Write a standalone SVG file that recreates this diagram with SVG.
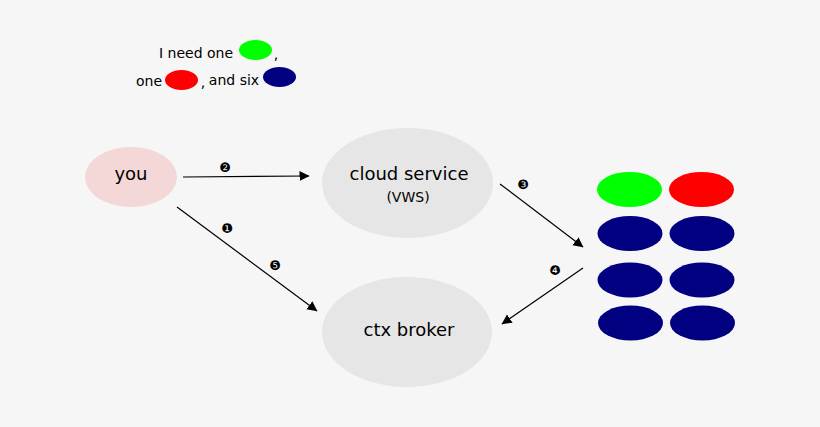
<svg xmlns="http://www.w3.org/2000/svg" width="820" height="427" viewBox="0 0 820 427">
<style>
text{font-family:"DejaVu Sans",sans-serif;fill:#000;text-anchor:middle}
.s{font-size:14px}.m{font-size:18px}.v{font-size:14px}.n{font-size:13px}
.g{fill:#00ff00}.r{fill:#ff0000}.b{fill:#000080}.c{fill:#e6e6e6}
.l{fill:none;stroke:#000;stroke-width:1.2;marker-end:url(#a)}
</style>
<defs><marker id="a" markerUnits="userSpaceOnUse" markerWidth="12" markerHeight="12" refX="9.5" refY="5" orient="auto"><path d="M0 0L10 5L0 10z" fill="#000"/></marker></defs>
<rect width="820" height="427" fill="#f6f6f6"/>
<g id="legend">
<text class="s" x="196" y="58">I need one</text>
<ellipse class="g" cx="255.500" cy="50" rx="16.500" ry="10"/>
<text class="s" x="276" y="59">,</text>
<text class="s" x="149" y="86">one</text>
<ellipse class="r" cx="181.500" cy="80" rx="16.500" ry="10"/>
<text class="s" x="203" y="87">,</text>
<text class="s" x="234" y="85">and six</text>
<ellipse class="b" cx="279.500" cy="77" rx="16.500" ry="10"/>
</g>
<g id="you"><ellipse cx="131" cy="177" rx="46" ry="30" fill="#f4d7d7"/><text class="m" x="131" y="180">you</text></g>
<g id="cloud"><ellipse class="c" cx="407.500" cy="183" rx="85.500" ry="55"/><text class="m" x="409" y="180">cloud service</text><text class="v" x="408" y="202">(VWS)</text></g>
<g id="broker"><ellipse class="c" cx="407" cy="332" rx="85" ry="55"/><text class="m" x="409" y="336">ctx broker</text></g>
<g id="pool">
<ellipse class="g" cx="629.500" cy="189.500" rx="32.500" ry="17.500"/>
<ellipse class="r" cx="701.500" cy="189.500" rx="32.500" ry="17.500"/>
<ellipse class="b" cx="630" cy="233.500" rx="32.500" ry="17.500"/>
<ellipse class="b" cx="702" cy="233.500" rx="32.500" ry="17.500"/>
<ellipse class="b" cx="630" cy="280" rx="32.500" ry="17.500"/>
<ellipse class="b" cx="702" cy="280" rx="32.500" ry="17.500"/>
<ellipse class="b" cx="630.500" cy="323" rx="32.500" ry="17.500"/>
<ellipse class="b" cx="702.500" cy="323" rx="32.500" ry="17.500"/>
</g>
<g id="connectors">
<path class="l" d="M183 177L309 176"/>
<path class="l" d="M177 207L317 311"/>
<path class="l" d="M500 184L583 247"/>
<path class="l" d="M583 268L502 324"/>
</g>
<g id="steps">
<text class="n" x="225" y="172">❷</text>
<text class="n" x="227" y="233">❶</text>
<text class="n" x="275" y="270">❺</text>
<text class="n" x="523" y="189">❸</text>
<text class="n" x="555" y="275">❹</text>
</g>
</svg>
